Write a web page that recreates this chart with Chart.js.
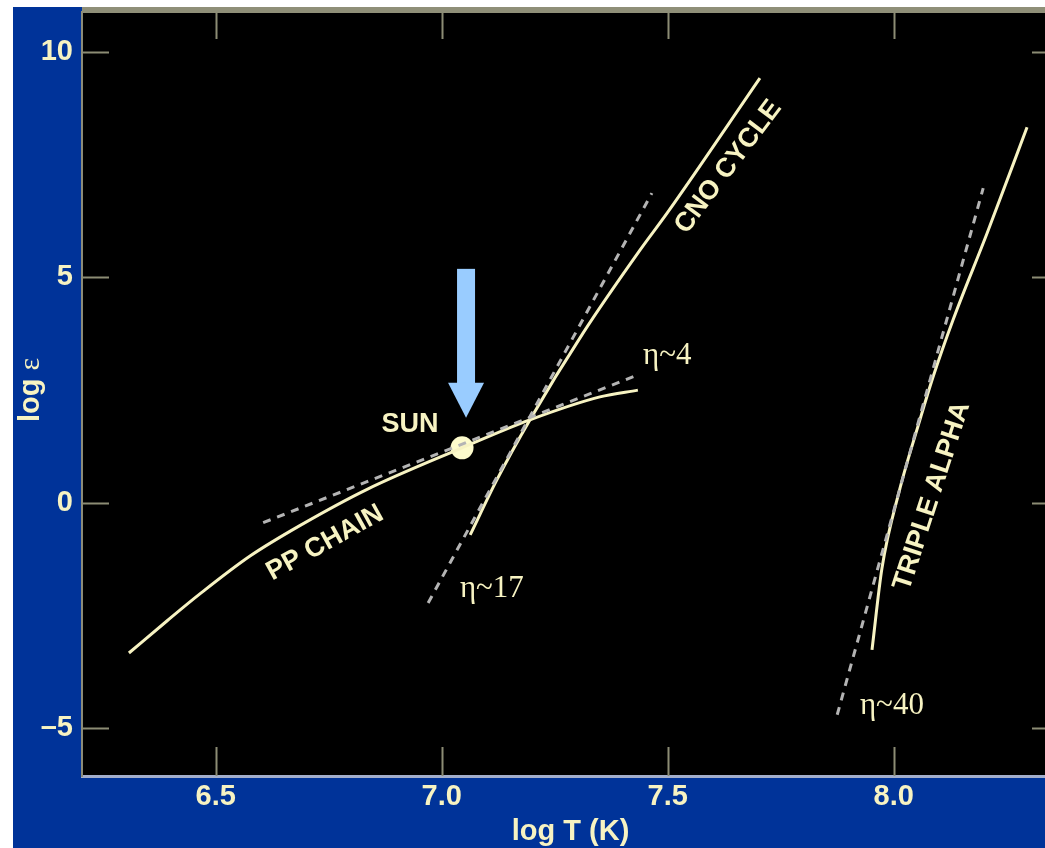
<!DOCTYPE html>
<html lang="en">
<head>
  <meta charset="UTF-8"/>
  <title>Energy generation vs temperature</title>
  <script src="https://cdn.jsdelivr.net/npm/chart.js"></script>
  <style>
    html, body { margin: 0; padding: 0; background: #fff; overflow: hidden; }
    #wrap { position: absolute; left: 13px; top: 7px; }
  </style>
</head>
<body>
  <div id="wrap"><canvas id="rateChart" width="1080" height="841"></canvas></div>

  <script>
    // Data (log T in K, log epsilon)
    const ppLogT    = [6.308, 6.392, 6.465, 6.576, 6.687, 6.835, 7.045, 7.195, 7.350, 7.434];
    const ppLogEps  = [-3.33, -2.62, -2.02, -1.18, -0.50, 0.30, 1.22, 1.84, 2.35, 2.50];
    const ppFitLogT   = [6.605, 7.434];
    const ppFitLogEps = [-0.44, 2.84];

    const cnoLogT   = [7.063, 7.122, 7.195, 7.313, 7.439, 7.499, 7.704];
    const cnoLogEps = [-0.71, 0.51, 1.84, 3.77, 5.61, 6.43, 9.42];
    const cnoFitLogT   = [6.970, 7.465];
    const cnoFitLogEps = [-2.22, 6.87];

    const taLogT    = [7.952, 7.974, 8.012, 8.058, 8.087, 8.131, 8.207, 8.295];
    const taLogEps  = [-3.26, -1.45, 0.25, 1.84, 2.79, 4.05, 5.99, 8.33];
    const taFitLogT   = [7.875, 8.198];
    const taFitLogEps = [-4.70, 6.98];

    const sunLogT   = [7.045];
    const sunLogEps = [1.22];

    const xTicks = [6.5, 7.0, 7.5, 8.0];
    const yTicks = [-5, 0, 5, 10];

    // Text annotations (placed in data coordinates)
    const notes = [
      { text: 'PP CHAIN',     x: 6.742, y: -0.89, rot: -29, kind: 'sans' },
      { text: 'CNO CYCLE',    x: 7.634, y: 7.45,  rot: -53, kind: 'sans' },
      { text: 'TRIPLE ALPHA', x: 8.085, y: 0.15,  rot: -72, kind: 'sans' },
      { text: 'SUN',          x: 6.930, y: 1.73,  rot: 0,   kind: 'sans' },
      { text: 'η~4',          x: 7.499, y: 3.26,  rot: 0,   kind: 'serif' },
      { text: 'η~17',         x: 7.111, y: -1.91, rot: 0,   kind: 'serif' },
      { text: 'η~40',         x: 7.996, y: -4.50, rot: 0,   kind: 'serif' }
    ];

    const CREAM = '#f7f3c2';
    const DASH  = '#b4b4b4';
    const TICK  = '#8c8c74';
    const pts = (xs, ys) => xs.map((x, i) => ({ x, y: ys[i] }));

    function curve(xs, ys) {
      return { data: pts(xs, ys), borderColor: CREAM, borderWidth: 3, pointRadius: 0,
               cubicInterpolationMode: 'monotone', fill: false };
    }
    function fit(xs, ys) {
      return { data: pts(xs, ys), borderColor: DASH, borderWidth: 3, pointRadius: 0,
               borderDash: [8, 7], fill: false };
    }

    // Background, frame and inner ticks
    const framePlugin = {
      id: 'frame',
      beforeDraw(chart) {
        const { ctx, chartArea: a, width, height } = chart;
        ctx.save();
        ctx.fillStyle = '#003399';
        ctx.fillRect(0, 0, width, height);
        ctx.fillStyle = '#000';
        ctx.fillRect(a.left, 0, a.right - a.left, a.bottom);
        ctx.fillStyle = '#8f8f78';
        ctx.fillRect(a.left, 0, width - a.left, 6);
        ctx.restore();
      },
      beforeDatasetsDraw(chart) {
        const { ctx, chartArea: a, scales: { x, y } } = chart;
        ctx.save();
        ctx.strokeStyle = TICK;
        ctx.lineWidth = 2;
        ctx.beginPath();
        x.ticks.forEach(t => {
          const px = Math.round(x.getPixelForValue(t.value)) + 0.5;
          ctx.moveTo(px, a.bottom); ctx.lineTo(px, a.bottom - 29);
          ctx.moveTo(px, 6);        ctx.lineTo(px, 32);
        });
        y.ticks.forEach(t => {
          const py = Math.round(y.getPixelForValue(t.value)) + 0.5;
          ctx.moveTo(a.left, py);  ctx.lineTo(a.left + 27, py);
          ctx.moveTo(a.right, py); ctx.lineTo(a.right - 27, py);
        });
        ctx.stroke();
        ctx.restore();
      },
      afterDraw(chart) {
        const { ctx, chartArea: a, scales: { x, y } } = chart;
        ctx.save();
        ctx.fillStyle = CREAM;

        // annotations
        notes.forEach(n => {
          ctx.save();
          ctx.translate(x.getPixelForValue(n.x), y.getPixelForValue(n.y));
          ctx.rotate(n.rot * Math.PI / 180);
          ctx.font = n.kind === 'serif' ? '31px "Liberation Serif"' : 'bold 27px "Liberation Sans"';
          ctx.textAlign = 'center';
          ctx.textBaseline = 'middle';
          ctx.fillText(n.text, 0, 0);
          ctx.restore();
        });

        // arrow pointing at the Sun
        const sx = x.getPixelForValue(sunLogT[0]) + 4;
        const sy = y.getPixelForValue(sunLogEps[0]);
        const tip = sy - 30;
        ctx.fillStyle = '#99ccff';
        ctx.fillRect(sx - 9, tip - 149, 18, 115);
        ctx.beginPath();
        ctx.moveTo(sx - 18, tip - 35);
        ctx.lineTo(sx + 18, tip - 35);
        ctx.lineTo(sx, tip);
        ctx.closePath();
        ctx.fill();

        // axis titles
        ctx.fillStyle = CREAM;
        ctx.font = 'bold 29px "Liberation Sans"';
        ctx.textAlign = 'center';
        ctx.textBaseline = 'alphabetic';
        ctx.fillText('log T (K)', (a.left + a.right) / 2, 833);

        ctx.save();
        ctx.translate(26, 383);
        ctx.rotate(-Math.PI / 2);
        ctx.textAlign = 'left';
        const logW = ctx.measureText('log ').width;
        ctx.font = '30px "Liberation Serif"';
        const epsW = ctx.measureText('ε').width;
        const start = -(logW + epsW) / 2;
        ctx.font = 'bold 29px "Liberation Sans"';
        ctx.fillText('log ', start, 0);
        ctx.font = '30px "Liberation Serif"';
        ctx.fillText('ε', start + logW, 0);
        ctx.restore();

        ctx.restore();
      }
    };

    new Chart(document.getElementById('rateChart'), {
      type: 'line',
      data: {
        datasets: [
          fit(ppFitLogT, ppFitLogEps),
          fit(cnoFitLogT, cnoFitLogEps),
          fit(taFitLogT, taFitLogEps),
          curve(ppLogT, ppLogEps),
          curve(cnoLogT, cnoLogEps),
          curve(taLogT, taLogEps),
          { type: 'scatter', data: pts(sunLogT, sunLogEps), pointRadius: 11.5,
            pointBackgroundColor: '#fdfbcc', pointBorderWidth: 0, borderWidth: 0 }
        ]
      },
      options: {
        responsive: false,
        animation: false,
        devicePixelRatio: 1,
        layout: { autoPadding: false, padding: { top: 5, right: 34, left: 0, bottom: 0 } },
        plugins: { legend: { display: false }, tooltip: { enabled: false } },
        scales: {
          x: {
            type: 'linear',
            min: 6.2042,
            max: 8.3657,
            afterBuildTicks: s => { s.ticks = xTicks.map(v => ({ value: v })); },
            afterFit: s => { s.height = 72; s.paddingLeft = 0; s.paddingRight = 0; },
            grid: { display: false, drawTicks: false },
            border: { display: true, color: '#a3aecb', width: 3 },
            ticks: {
              padding: 4,
              color: CREAM,
              font: { family: 'Liberation Sans', size: 29, weight: 'bold' },
              callback: v => v.toFixed(1)
            }
          },
          y: {
            type: 'linear',
            min: -6.058,
            max: 10.887,
            afterBuildTicks: s => { s.ticks = yTicks.map(v => ({ value: v })); },
            afterFit: s => { s.width = 69; s.paddingTop = 0; s.paddingBottom = 0; },
            grid: { display: false, drawTicks: false },
            border: { display: true, color: '#8c8c78', width: 2 },
            ticks: {
              padding: 9,
              color: CREAM,
              font: { family: 'Liberation Sans', size: 29, weight: 'bold' },
              callback: v => (v < 0 ? '\u2013' + Math.abs(v) : String(v))
            }
          }
        }
      },
      plugins: [framePlugin]
    });
  </script>
</body>
</html>
